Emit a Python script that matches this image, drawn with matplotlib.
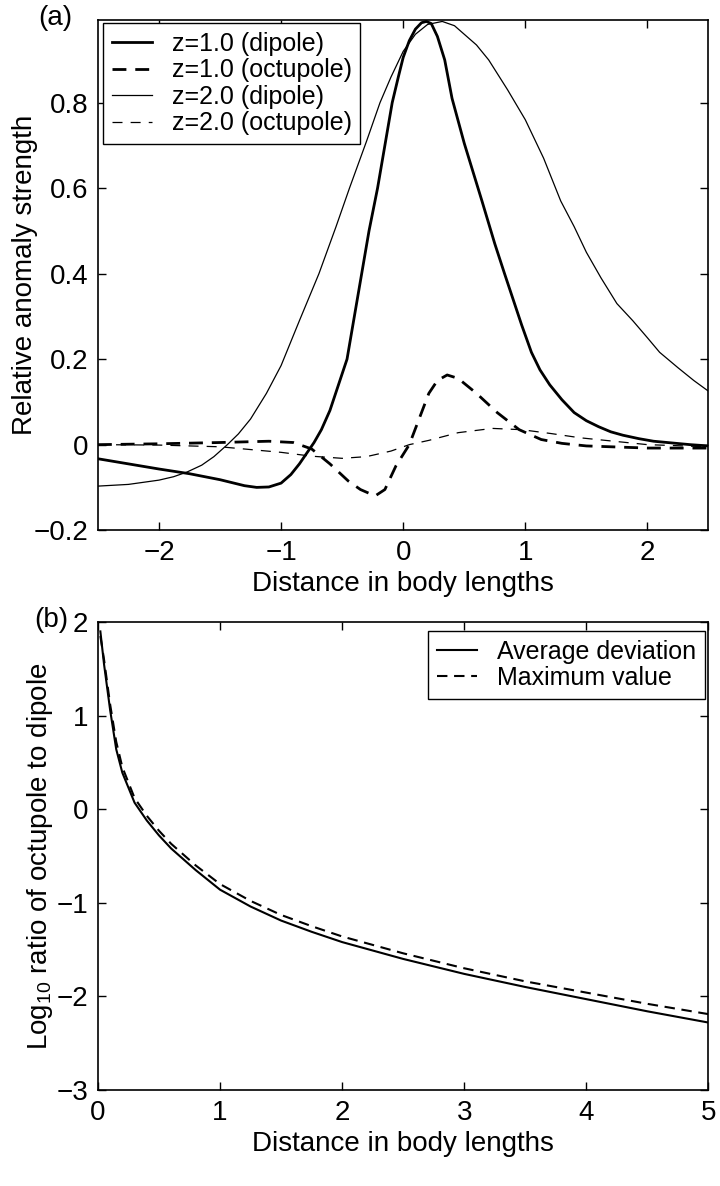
import matplotlib
matplotlib.use("Agg")
import matplotlib.pyplot as plt

plt.rcParams['font.family'] = ['Liberation Sans', 'DejaVu Sans']
plt.rcParams['font.size'] = 20

# panel (a): anomaly profiles
x_d1 = [-2.5, -2.25, -2.0, -1.75, -1.5, -1.3, -1.2, -1.1, -1.0, -0.92, -0.85, -0.79,
        -0.73, -0.67, -0.6, -0.53, -0.46, -0.4, -0.34, -0.28, -0.21, -0.15, -0.09, -0.04,
        0.0, 0.05, 0.1, 0.15, 0.19, 0.23, 0.28, 0.34, 0.4, 0.5, 0.645, 0.75, 0.83, 0.9,
        0.97, 1.05, 1.12, 1.2, 1.3, 1.4, 1.5, 1.6, 1.7, 1.8, 1.93, 2.05, 2.2, 2.35, 2.5]
y_d1 = [-0.033, -0.045, -0.057, -0.068, -0.082, -0.096, -0.100, -0.099, -0.090, -0.070,
        -0.045, -0.02, 0.005, 0.035, 0.08, 0.14, 0.2, 0.3, 0.4, 0.5, 0.6, 0.7, 0.8, 0.86,
        0.906, 0.945, 0.972, 0.987, 0.99, 0.985, 0.955, 0.9, 0.81, 0.705, 0.57, 0.47,
        0.40, 0.34, 0.28, 0.216, 0.175, 0.14, 0.105, 0.075, 0.056, 0.042, 0.03, 0.022,
        0.014, 0.008, 0.004, 0.0, -0.003]

x_q1 = [-2.5, -2.0, -1.5, -1.1, -0.9, -0.75, -0.6, -0.45, -0.35, -0.23, -0.15, -0.06,
        0.05, 0.13, 0.21, 0.28, 0.36, 0.45, 0.6, 0.77, 0.95, 1.13, 1.3, 1.5, 2.0, 2.5]
y_q1 = [0.0, 0.002, 0.005, 0.008, 0.005, -0.01, -0.045, -0.085, -0.105, -0.12, -0.105,
        -0.05, 0.0, 0.06, 0.12, 0.15, 0.163, 0.155, 0.12, 0.075, 0.035, 0.012, 0.003,
        -0.003, -0.008, -0.008]

x_d2 = [-2.5, -2.25, -2.0, -1.88, -1.77, -1.65, -1.55, -1.44, -1.35, -1.25, -1.12, -1.0,
        -0.85, -0.69, -0.55, -0.44, -0.3, -0.19, -0.1, 0.0, 0.1, 0.2, 0.32, 0.42, 0.5,
        0.6, 0.7, 0.855, 1.0, 1.15, 1.29, 1.4, 1.5, 1.62, 1.75, 1.88, 2.0, 2.1, 2.25,
        2.38, 2.5]
y_d2 = [-0.097, -0.093, -0.083, -0.075, -0.064, -0.048, -0.028, 0.0, 0.025, 0.06, 0.12,
        0.185, 0.29, 0.4, 0.51, 0.6, 0.71, 0.8, 0.86, 0.92, 0.96, 0.983, 0.99, 0.98,
        0.96, 0.935, 0.9, 0.83, 0.76, 0.67, 0.57, 0.51, 0.45, 0.39, 0.33, 0.29, 0.25,
        0.216, 0.18, 0.15, 0.125]

x_q2 = [-2.5, -2.0, -1.5, -1.0, -0.75, -0.5, -0.3, -0.1, 0.05, 0.21, 0.45, 0.73, 0.97,
        1.21, 1.45, 1.69, 2.0, 2.5]
y_q2 = [0.0, -0.001, -0.005, -0.018, -0.027, -0.032, -0.028, -0.015, 0.0, 0.01, 0.028,
        0.038, 0.035, 0.026, 0.016, 0.009, 0.0, -0.005]

# panel (b): log10 ratio octupole/dipole
x_b = [0.02, 0.05, 0.1, 0.15, 0.2, 0.3, 0.4, 0.5, 0.6, 0.8, 1.0, 1.25, 1.5, 1.75, 2.0,
       2.5, 3.0, 3.5, 4.0, 4.5, 5.0]
avg_dev = [1.9, 1.55, 1.06, 0.64, 0.39, 0.07, -0.12, -0.28, -0.42, -0.65, -0.86, -1.04,
           -1.19, -1.31, -1.42, -1.6, -1.76, -1.9, -2.03, -2.16, -2.28]
max_val = [1.85, 1.6, 1.12, 0.72, 0.45, 0.12, -0.07, -0.23, -0.37, -0.6, -0.8, -0.98,
           -1.13, -1.25, -1.36, -1.54, -1.7, -1.84, -1.96, -2.08, -2.19]

fig = plt.figure(figsize=(7.2, 11.86), dpi=100)
ax1 = fig.add_axes([0.136, 0.553, 0.848, 0.430])
ax2 = fig.add_axes([0.136, 0.081, 0.848, 0.3945])

for ax in (ax1, ax2):
    ax.tick_params(direction='in', top=True, right=True, length=6, width=1,
                   labelsize=20, pad=7)
    for s in ax.spines.values():
        s.set_linewidth(1.2)

ax1.plot(x_d1, y_d1, color='black', lw=2.0, label='z=1.0 (dipole)')
ax1.plot(x_q1, y_q1, color='black', lw=2.0, dashes=(5, 3.2), label='z=1.0 (octupole)')
ax1.plot(x_d2, y_d2, color='black', lw=0.9, label='z=2.0 (dipole)')
ax1.plot(x_q2, y_q2, color='black', lw=0.9, dashes=(8, 6.5), label='z=2.0 (octupole)')
ax1.set_xlim(-2.5, 2.5)
ax1.set_ylim(-0.2, 0.993)
ax1.set_xticks([-2, -1, 0, 1, 2])
ax1.set_yticks([-0.2, 0, 0.2, 0.4, 0.6, 0.8])
ax1.set_yticklabels(['\u22120.2', '0', '0.2', '0.4', '0.6', '0.8'])
ax1.set_xticklabels(['\u22122', '\u22121', '0', '1', '2'])
ax1.set_xlabel('Distance in body lengths', fontsize=20, labelpad=4)
ax1.set_ylabel('Relative anomaly strength', fontsize=20, labelpad=-3)
leg1 = ax1.legend(loc='upper left', bbox_to_anchor=(0.143, 0.9806),
                  bbox_transform=fig.transFigure, borderaxespad=0, fontsize=18,
                  fancybox=False, edgecolor='black', framealpha=1, handlelength=1.6,
                  handletextpad=0.8, labelspacing=0.1, borderpad=0.35)
leg1.get_frame().set_linewidth(1.0)

ax2.plot(x_b, avg_dev, color='black', lw=1.5, label='Average deviation')
ax2.plot(x_b, max_val, color='black', lw=1.5, dashes=(5, 3.2), label='Maximum value')
ax2.set_xlim(0, 5)
ax2.set_ylim(-3, 2)
ax2.set_xticks([0, 1, 2, 3, 4, 5])
ax2.set_yticks([-3, -2, -1, 0, 1, 2])
ax2.set_yticklabels(['\u22123', '\u22122', '\u22121', '0', '1', '2'])
ax2.set_xlabel('Distance in body lengths', fontsize=20, labelpad=4)
ax2.set_ylabel(r'Log$_{\mathregular{10}}$ ratio of octupole to dipole', fontsize=20,
               labelpad=1)
leg2 = ax2.legend(loc='upper right', bbox_to_anchor=(0.979, 0.468),
                  bbox_transform=fig.transFigure, borderaxespad=0, fontsize=18,
                  fancybox=False, edgecolor='black', framealpha=1, handlelength=1.6,
                  handletextpad=0.8, labelspacing=0.1, borderpad=0.35)
leg2.get_frame().set_linewidth(1.0)

fig.text(0.053, 0.985, '(a)', fontsize=20, va='center')
fig.text(0.048, 0.477, '(b)', fontsize=20, va='center')

fig.savefig('out.png', dpi=100)
